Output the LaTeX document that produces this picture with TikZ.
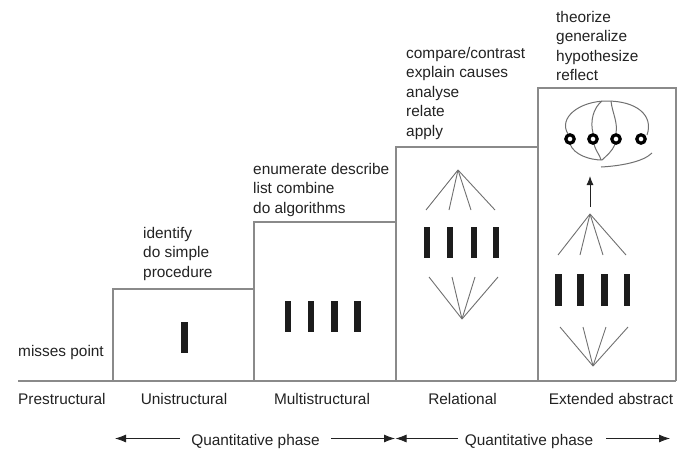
\documentclass[tikz,border=0pt]{standalone}
\usepackage{fontspec}
\setmainfont{Liberation Sans}
\usetikzlibrary{arrows.meta}
\definecolor{txtcol}{HTML}{222222}
\definecolor{boxcol}{HTML}{8A8A8A}
\definecolor{fancol}{HTML}{707070}
\definecolor{barcol}{HTML}{1C1C1C}
\begin{document}
\begin{tikzpicture}[x=1pt,y=-1pt,
  txt/.style={font=\fontsize{15.4}{19.5}\selectfont, text=txtcol, inner sep=0pt, align=left, anchor=north west},
  lbl/.style={font=\fontsize{15.4}{19.5}\selectfont, text=txtcol, inner sep=0pt, anchor=base},
  boxline/.style={draw=boxcol, line width=1.3},
  fan/.style={draw=fancol, line width=0.9},
  bar/.style={fill=barcol},
  ring/.style={draw=black, line width=3.2},
  curve/.style={draw=fancol, line width=1},
  phase/.style={draw=txtcol, line width=0.8},
  phtip/.style={-{Latex[length=11pt,width=8pt]}}
]
\useasboundingbox (0,0) rectangle (700,458);

% boxes and baseline
\draw[boxline] (113,381) |- (254,289);
\draw[boxline] (254,381) |- (396,222);
\draw[boxline] (396,381) |- (538,147);
\draw[boxline] (538,381) |- (676,88) -- (676,381);
\draw[boxline] (18,381) -- (676,381);

% texts above
\node[lbl, anchor=base west] (mp) at (18,356) {misses point};
\node[txt] (uni) at (143,226.8) {identify\\do simple\\procedure};
\node[txt] (multi) at (253,162.8) {enumerate describe\\list combine\\do algorithms};
\node[txt] (rel) at (406,46.8) {compare/contrast\\explain causes\\analyse\\relate\\apply};
\node[txt] (ext) at (556,10.8) {theorize\\generalize\\hypothesize\\reflect};

% unistructural bar
\fill[bar] (181,322) rectangle (187.5,353);

% multistructural bars
\foreach \cx in {288,311,334.5,357.5}
  \fill[bar] (\cx-3.2,301) rectangle (\cx+3.2,332);

% relational
\coordinate (ra) at (458,170);
\coordinate (rb) at (462,319);
\foreach \ex in {426,449,471,495} \draw[fan] (ra) -- (\ex,210);
\foreach \ex in {429,452,475,498} \draw[fan] (rb) -- (\ex,277);
\foreach \cx in {427,450,474,496}
  \fill[bar] (\cx-3.2,227) rectangle (\cx+3.2,258);

% extended abstract
\coordinate (ea) at (590,214);
\coordinate (eb) at (593,366);
\foreach \ex in {558,580,603,626} \draw[fan] (ea) -- (\ex,255);
\foreach \ex in {560,583,606,628} \draw[fan] (eb) -- (\ex,327);
\foreach \cx in {558.5,580.5,604.5,627}
  \fill[bar] (\cx-3.2,274) rectangle (\cx+3.2,306);
\coordinate (arrS) at (590,207);
\coordinate (arrE) at (590,176);
\draw[fan, draw=txtcol, line width=1, -{Latex[length=9pt,width=7pt]}] (arrS) -- (arrE);

% ellipse with rings
\draw[curve] (568,134) .. controls (558,118) and (579,101) .. (607,101) .. controls (636,101) and (654,115) .. (647,135);
\draw[curve] (570,144) .. controls (574,155) and (590,160) .. (602,160);
\draw[curve] (594,144) .. controls (596,152) and (600,155) .. (601,160);
\draw[curve] (615,144) .. controls (612,152) and (606,156) .. (602,160);
\draw[curve] (602,101) .. controls (593,108) and (590,122) .. (593,133);
\draw[curve] (611,101) .. controls (612,112) and (618,122) .. (616,133);
\draw[curve] (601,167) .. controls (620,166) and (643,162) .. (652,153);
\foreach \rx/\nm in {570/r1,593/r2,616/r3,641/r4}
  \draw[ring] (\rx,139) circle (4.2);

% level labels
\node[lbl, anchor=base west] (l0) at (18,404) {Prestructural};
\node[lbl] (l1) at (184,404) {Unistructural};
\node[lbl] (l2) at (322,404) {Multistructural};
\node[lbl] (l3) at (462.5,404) {Relational};
\node[lbl] (l4) at (611,404) {Extended abstract};

% phase arrows
\node[lbl] (q1) at (255.5,445) {Quantitative phase};
\node[lbl] (q2) at (529,445) {Quantitative phase};
\coordinate (a1) at (115,438.5);
\coordinate (a2) at (180,438.5);
\coordinate (a3) at (331,438.5);
\coordinate (a4) at (395,438.5);
\coordinate (a5) at (395.5,438.5);
\coordinate (a6) at (458,438.5);
\coordinate (a7) at (606,438.5);
\coordinate (a8) at (670,438.5);
\draw[phase, phtip] (a2) -- (a1);
\draw[phase, phtip] (a3) -- (a4);
\draw[phase, phtip] (a6) -- (a5);
\draw[phase, phtip] (a7) -- (a8);
\end{tikzpicture}
\end{document}
